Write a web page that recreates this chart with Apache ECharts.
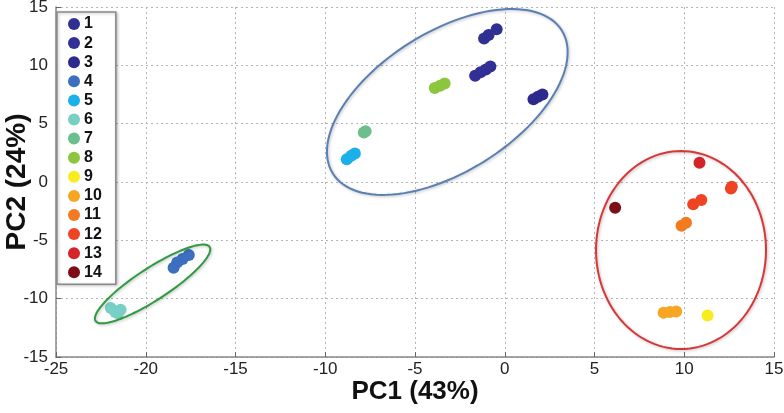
<!DOCTYPE html>
<html><head><meta charset="utf-8">
<script src="https://cdn.jsdelivr.net/npm/echarts@6/dist/echarts.min.js"></script>
<style>html,body{margin:0;padding:0;background:#fff}#c{width:784px;height:413px}</style>
</head><body><div id="c"></div>
<script>
const groupNames = ['1','2','3','4','5','6','7','8','9','10','11','12','13','14'];
const groupColors = ['#2e3192','#322f96','#2c2a8c','#3c6fc0','#1cb0e8','#78cfc3','#6cbf8c','#8cc63f','#f8ec1e','#f6a623','#f27a21','#ee4423','#d5232a','#7d0d16'];
const g1 = [[-1.15,12.3],[-0.9,12.6],[-0.45,13.1]];
const g2 = [[-1.65,9.1],[-1.35,9.4],[-1.05,9.65],[-0.8,9.9]];
const g3 = [[1.6,7.1],[1.85,7.3],[2.1,7.5]];
const g4 = [[-18.45,-7.35],[-18.25,-6.9],[-17.95,-6.6],[-17.6,-6.25]];
const g5 = [[-8.8,1.95],[-8.55,2.25],[-8.35,2.45]];
const g6 = [[-21.95,-10.8],[-21.7,-11.15],[-21.4,-10.95],[-21.55,-11.25]];
const g7 = [[-7.85,4.25],[-7.75,4.35]];
const g8 = [[-3.9,8.05],[-3.6,8.25],[-3.35,8.45]];
const g9 = [[11.3,-11.45]];
const g10 = [[8.85,-11.2],[9.2,-11.15],[9.55,-11.1]];
const g11 = [[9.85,-3.75],[10.1,-3.5]];
const g12 = [[10.5,-1.9],[10.95,-1.55],[12.6,-0.55],[12.65,-0.4]];
const g13 = [[10.85,1.65]];
const g14 = [[6.15,-2.2]];
const groupData = [g1,g2,g3,g4,g5,g6,g7,g8,g9,g10,g11,g12,g13,g14];

// cluster ellipses: center in data coordinates
const ellipseCenters = [[-3.2,6.86],[-19.62,-8.74],[9.82,-5.83]];
const ellipseColors = ['#5a7fb3','#2f9a42','#d93638'];
const ellipseShape = [ {rx:135, ry:70, rot:32}, {rx:68, ry:16, rot:33}, {rx:85, ry:99, rot:0} ];

const chart = echarts.init(document.getElementById('c'), null, {renderer:'canvas'});
const tickFont = {fontFamily:'"Liberation Sans Narrow","Liberation Sans",Arial,sans-serif', fontSize:17, color:'#222'};

const series = groupNames.map((n,i)=>({
  name:n, type:'scatter', data:groupData[i], symbol:'circle', symbolSize:12,
  itemStyle:{color:groupColors[i], opacity:1}, z:3
}));
ellipseCenters.forEach((c,k)=>{
  series.push({
    type:'custom', name:'ell'+k, data:[c], z:4, silent:true,
    renderItem:function(params, api){
      const p = api.coord([api.value(0), api.value(1)]);
      const s = ellipseShape[k];
      const t = -s.rot*Math.PI/180;
      const pts = [];
      for(let j=0;j<=120;j++){
        const a = j/120*Math.PI*2;
        const ex = s.rx*Math.cos(a), ey = s.ry*Math.sin(a);
        pts.push([p[0]+ex*Math.cos(t)-ey*Math.sin(t), p[1]+ex*Math.sin(t)+ey*Math.cos(t)]);
      }
      return {type:'polygon', shape:{points:pts}, style:{fill:'none', stroke:ellipseColors[k], lineWidth:2, shadowBlur:3, shadowColor:'rgba(0,0,0,0.25)', shadowOffsetX:1, shadowOffsetY:1}};
    }
  });
});

chart.setOption({
  animation:false,
  backgroundColor:'#fff',
  grid:{left:56, right:10, top:7, bottom:56, containLabel:false, outerBoundsMode:'none'},
  xAxis:{type:'value', min:-25, max:15, interval:5,
    name:'PC1 (43%)', nameLocation:'middle', nameGap:22, nameMoveOverlap:false,
    nameTextStyle:{fontFamily:'"Liberation Sans",Arial,sans-serif', fontWeight:'bold', fontSize:26, color:'#111'},
    axisLine:{show:true, onZero:false, lineStyle:{color:'#888', width:1.5}},
    axisTick:{show:true, inside:true, length:5, lineStyle:{color:'#666'}},
    axisLabel:{...tickFont, margin:4},
    splitLine:{show:true, lineStyle:{color:'#b5b5b5', type:[2,3], width:1}}},
  yAxis:{type:'value', min:-15, max:15, interval:5,
    name:'PC2 (24%)', nameLocation:'middle', nameGap:25, nameRotate:90, nameMoveOverlap:false,
    nameTextStyle:{fontFamily:'"Liberation Sans",Arial,sans-serif', fontWeight:'bold', fontSize:28, color:'#111'},
    axisLine:{show:true, onZero:false, lineStyle:{color:'#888', width:1.5}},
    axisTick:{show:true, inside:true, length:5, lineStyle:{color:'#666'}},
    axisLabel:{...tickFont, margin:8},
    splitLine:{show:true, lineStyle:{color:'#b5b5b5', type:[2,3], width:1}}},
  legend:{data:groupNames, orient:'vertical', left:57, top:12, width:61,
    icon:'circle', itemWidth:12, itemHeight:12, itemGap:3.1,
    padding:[4,14,4,11], backgroundColor:'#fff', borderColor:'#8a8a8a', borderWidth:1.5,
    shadowBlur:3, shadowColor:'rgba(0,0,0,0.25)', shadowOffsetX:1, shadowOffsetY:1,
    textStyle:{fontFamily:'"Liberation Sans",Arial,sans-serif', fontWeight:'bold', fontSize:16, lineHeight:15, color:'#111', padding:[0,0,0,-1]}},
  series:series
});
</script></body></html>
